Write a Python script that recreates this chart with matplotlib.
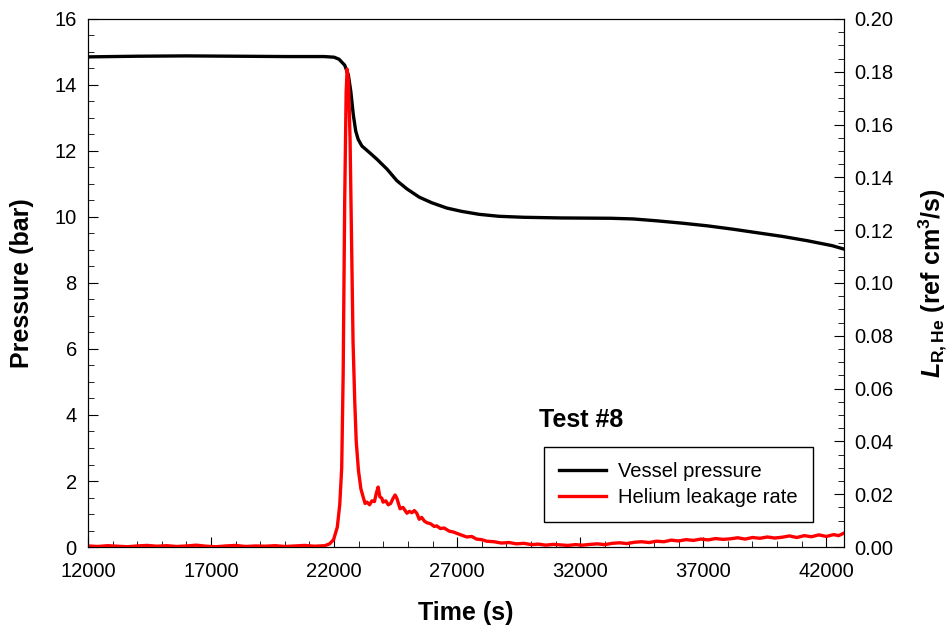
import matplotlib
matplotlib.use("Agg")
import matplotlib.pyplot as plt
from matplotlib.ticker import MultipleLocator

plt.rcParams['font.family'] = ['Liberation Sans', 'DejaVu Sans']
plt.rcParams['mathtext.fontset'] = 'custom'
plt.rcParams['mathtext.rm'] = 'Liberation Sans:bold'
plt.rcParams['mathtext.bf'] = 'Liberation Sans:bold'
plt.rcParams['mathtext.it'] = 'Liberation Sans:bold:italic'

# vessel pressure (bar)
p_time = [12000, 14000, 16000, 18000, 20100, 21600, 22000, 22200, 22430, 22580,
          22680, 22780, 22880, 22980, 23130, 23440, 23740, 24150, 24550, 24960,
          25460, 25970, 26580, 27180, 27890, 28700, 29710, 31230, 33260, 34150,
          35160, 36170, 37180, 38200, 39210, 40220, 41230, 42240, 42700]
pressure = [14.85, 14.87, 14.88, 14.87, 14.86, 14.86, 14.84, 14.78, 14.6, 14.3,
            13.8, 13.1, 12.6, 12.35, 12.15, 11.95, 11.75, 11.45, 11.1, 10.85,
            10.6, 10.43, 10.27, 10.17, 10.08, 10.02, 9.99, 9.97, 9.96, 9.94,
            9.88, 9.81, 9.73, 9.63, 9.52, 9.41, 9.28, 9.13, 9.03]

# helium leakage rate (ref cm3/s)
l_time = [12000, 12400, 12800, 13200, 13600, 14000, 14400, 14800, 15200, 15600,
          16000, 16400, 16800, 17200, 17600, 18000, 18400, 18800, 19200, 19600,
          20000, 20400, 20800, 21200, 21620, 21820, 21980, 22130, 22230, 22310,
          22370, 22430, 22490, 22530, 22590, 22650, 22710, 22770, 22840, 22900,
          22990, 23090, 23180, 23260, 23340, 23440, 23540, 23640, 23720, 23790,
          23860, 23940, 23990, 24100, 24200, 24300, 24400, 24480, 24550, 24680,
          24800, 24960, 25060, 25160, 25260, 25360, 25460, 25560, 25670, 25770,
          25920, 26070, 26170, 26320, 26470, 26680, 26840, 26980, 27180, 27390,
          27590, 27790, 27990, 28200, 28500, 28800, 29110, 29410, 29710, 30020,
          30300, 30600, 30900, 31200, 31500, 31800, 32100, 32400, 32700, 33000,
          33300, 33600, 33900, 34200, 34500, 34800, 35100, 35400, 35700, 36000,
          36300, 36600, 36900, 37200, 37500, 37800, 38100, 38400, 38700, 39000,
          39300, 39600, 39900, 40200, 40500, 40800, 41100, 41400, 41700, 42000,
          42300, 42500, 42700]
leak = [0.0004, 0.0002, 0.0005, 0.0003, 0.0001, 0.0004, 0.0006, 0.0003, 0.0005, 0.0002,
        0.0004, 0.0007, 0.0003, 0.0001, 0.0004, 0.0006, 0.0002, 0.0004, 0.0003, 0.0005,
        0.0002, 0.0004, 0.0006, 0.0003, 0.0005, 0.0012, 0.0028, 0.0075, 0.016, 0.030,
        0.066, 0.130, 0.172, 0.181, 0.176, 0.154, 0.115, 0.078, 0.055, 0.040,
        0.029, 0.022, 0.019, 0.0165, 0.017, 0.0160, 0.0175, 0.0172, 0.0205, 0.0227,
        0.019, 0.0185, 0.0170, 0.0175, 0.0160, 0.0165, 0.0185, 0.0197, 0.0185, 0.0145,
        0.0150, 0.0128, 0.0135, 0.0130, 0.0138, 0.0128, 0.0105, 0.0112, 0.0098, 0.0092,
        0.0088, 0.0078, 0.0080, 0.0070, 0.0072, 0.0060, 0.0057, 0.0052, 0.0045, 0.0038,
        0.0040, 0.0030, 0.0028, 0.0022, 0.0020, 0.0015, 0.0017, 0.0012, 0.0014, 0.0009,
        0.0011, 0.0007, 0.0010, 0.0008, 0.0006, 0.0009, 0.0007, 0.0010, 0.0012, 0.0009,
        0.0014, 0.0016, 0.0013, 0.0018, 0.0020, 0.0017, 0.0022, 0.0020, 0.0026, 0.0023,
        0.0028, 0.0025, 0.0030, 0.0027, 0.0032, 0.0029, 0.0031, 0.0035, 0.0030, 0.0036,
        0.0033, 0.0038, 0.0034, 0.0037, 0.0042, 0.0036, 0.0043, 0.0039, 0.0046, 0.0040,
        0.0047, 0.0043, 0.0052]

x_ticks = [12000, 17000, 22000, 27000, 32000, 37000, 42000]

fig = plt.figure(figsize=(9.51, 6.31), dpi=100)
ax = fig.add_axes([0.0925, 0.1331, 0.7945, 0.8369])
ax2 = ax.twinx()

lp, = ax.plot(p_time, pressure, color='black', lw=2.4, label='Vessel pressure')
ll, = ax2.plot(l_time, leak, color='#ff0000', lw=2.4, label='Helium leakage rate')

ax.set_xlim(12000, 42700)
ax.set_ylim(0, 16)
ax2.set_ylim(0, 0.2)

ax.set_xticks(x_ticks)
ax.xaxis.set_minor_locator(MultipleLocator(1000))
ax.yaxis.set_major_locator(MultipleLocator(2))
ax.yaxis.set_minor_locator(MultipleLocator(0.5))
ax2.yaxis.set_major_locator(MultipleLocator(0.02))
ax2.yaxis.set_minor_locator(MultipleLocator(0.005))
ax2.yaxis.set_major_formatter(plt.FormatStrFormatter('%.2f'))

ax.tick_params(axis='x', which='both', direction='in', top=False, labelsize=14.5, pad=11)
ax.tick_params(axis='x', which='major', length=7)
ax.tick_params(axis='x', which='minor', length=4)
ax.tick_params(axis='y', which='both', direction='in', right=False, labelsize=14.5, pad=8)
ax.tick_params(axis='y', which='major', length=7)
ax.tick_params(axis='y', which='minor', length=4)
ax2.tick_params(axis='y', which='both', direction='in', labelsize=14.5, pad=8)
ax2.tick_params(axis='y', which='major', length=7)
ax2.tick_params(axis='y', which='minor', length=4)

ax.set_xlabel('Time (s)', fontsize=18, fontweight='bold', labelpad=14)
ax.set_ylabel('Pressure (bar)', fontsize=18, fontweight='bold', labelpad=15)
ax2.set_ylabel(r'$\mathit{L}_{\mathrm{R,He}}$ (ref cm$^{3}$/s)', fontsize=18,
               fontweight='bold', labelpad=16)

ax.text(0.597, 0.24, 'Test #8', transform=ax.transAxes, fontsize=18,
        fontweight='bold', va='center', ha='left')
leg = ax.legend(handles=[lp, ll], loc='lower right', bbox_to_anchor=(0.959, 0.047),
                borderaxespad=0, fontsize=14.5, fancybox=False, framealpha=1,
                edgecolor='black', handlelength=2.3, handletextpad=0.6,
                borderpad=0.75, labelspacing=0.35)
leg.get_frame().set_linewidth(1.0)

fig.savefig('out.png', dpi=100)
